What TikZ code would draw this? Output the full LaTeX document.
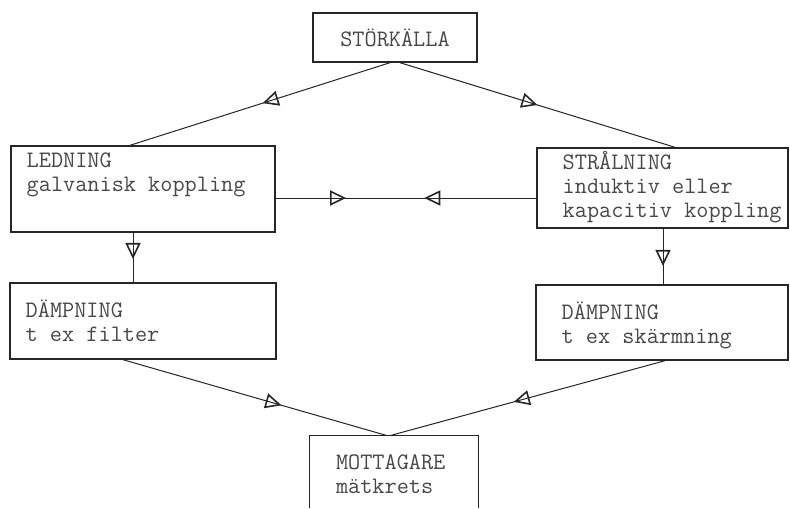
\documentclass[tikz,border=0pt]{standalone}
\usepackage{fontspec}
\usetikzlibrary{calc,arrows.meta,decorations.markings}
\definecolor{ink}{HTML}{262626}
\definecolor{txt}{HTML}{484848}
\tikzset{
  box/.style={draw=ink, line width=0.7pt, inner sep=0pt},
  lbl/.style={anchor=north west, inner sep=0pt, align=left, text=txt,
    font=\ttfamily\fontsize{11.8}{12}\selectfont},
  conn/.style={draw=ink, line width=0.5pt},
  tri/.style={postaction={decorate, decoration={markings,
    mark=at position #1 with {\arrow[ink,line width=0.8pt]{Triangle[open,length=8pt,width=7.5pt]}}}}},
  trirev/.style={postaction={decorate, decoration={markings,
    mark=at position #1 with {\arrowreversed[ink,line width=0.8pt]{Triangle[open,length=8pt,width=7.5pt]}}}}}
}
\begin{document}
\begin{tikzpicture}[x=0.5pt,y=-0.5pt]
\useasboundingbox[fill=white] (0,0) rectangle (790,508);
% boxes
\node[box, minimum width=82pt, minimum height=24.5pt, text=txt,
      font=\ttfamily\fontsize{11.8}{12}\selectfont] (stor) at (395,37.5) {STÖRKÄLLA};
\node[box, minimum width=132pt, minimum height=43pt] (led) at (143,189) {};
\node[box, minimum width=125.5pt, minimum height=40pt] (stra) at (662.5,188) {};
\node[box, minimum width=133pt, minimum height=38pt] (dampa) at (143,321) {};
\node[box, minimum width=126pt, minimum height=37.5pt] (dampb) at (662,322.5) {};
\node[inner sep=0pt, minimum width=84pt, minimum height=36pt] (mott) at (394,472) {};
\draw[ink, line width=0.7pt] (mott.south west) -- (mott.north west) -- (mott.north east) -- (mott.south east);
% texts
\node[lbl] (tled) at ($(led.north west)+(16,5)$) {\strut LEDNING\\galvanisk koppling};
\node[lbl] (tstra) at ($(stra.north west)+(26,4)$) {\strut STRÅLNING\\induktiv eller\\kapacitiv koppling};
\node[lbl] (tdampa) at ($(dampa.north west)+(16,17)$) {\strut DÄMPNING\\t ex filter};
\node[lbl] (tdampb) at ($(dampb.north west)+(26,17)$) {\strut DÄMPNING\\t ex skärmning};
\node[lbl] (tmott) at ($(mott.north west)+(26,17)$) {\strut MOTTAGARE\\mätkrets};
% connectors
\draw[conn, tri=0.49] ($(stor.south)+(-5,0)$) -- ($(led.north)+(-13,0)$);
\draw[conn, tri=0.5] ($(stor.south)+(5,0)$) -- ($(stra.north)+(12.5,0)$);
\draw[conn, tri=0.27, trirev=0.57] ($(led.east)+(0,9)$) -- ($(stra.west)+(0,10)$);
\draw[conn, tri=0.53] ($(led.south)+(-10,0)$) -- ($(dampa.north)+(-10,0)$);
\draw[conn, tri=0.67] ($(stra.south)+(0.5,0)$) -- ($(dampb.north)+(1,0)$);
\draw[conn, tri=0.6] ($(dampa.south)+(-20,0)$) -- ($(mott.north)+(-7,0)$);
\draw[conn, tri=0.55] ($(dampb.south)+(3,0)$) -- ($(mott.north)+(-4,0)$);
\end{tikzpicture}
\end{document}
